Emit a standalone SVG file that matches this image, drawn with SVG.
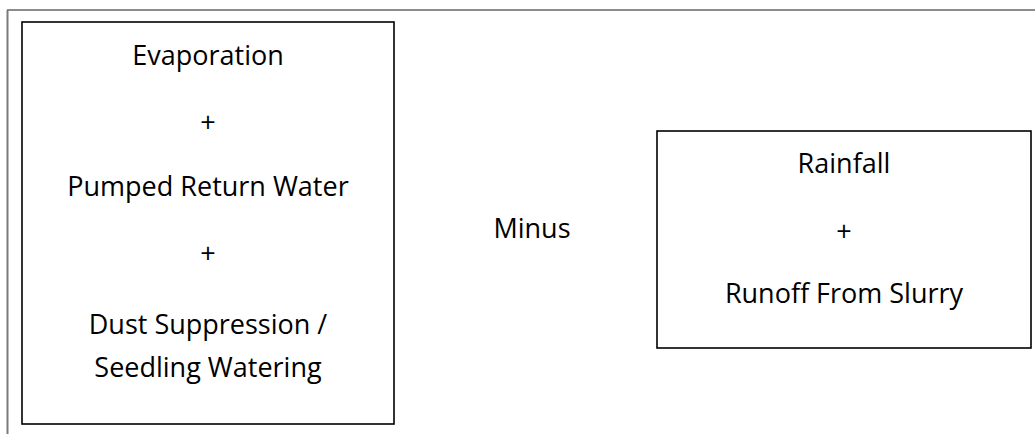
<svg xmlns="http://www.w3.org/2000/svg" width="1035" height="434" viewBox="0 0 1035 434">
  <style>
    .box { fill: #ffffff; stroke: #000000; stroke-width: 1.6; }
    .lbl { font-family: "Open Sans", "Noto Sans", "Liberation Sans", sans-serif; font-size: 27px; fill: #000000; text-anchor: middle; }
  </style>
  <rect x="0" y="0" width="1035" height="434" fill="#ffffff"/>
  <!-- page frame -->
  <g id="frame">
    <line x1="7" y1="10" x2="1035" y2="10" stroke="#1a1a1a" stroke-width="1.2"/>
    <line x1="7.5" y1="10" x2="7.5" y2="434" stroke="#7a7a7a" stroke-width="2"/>
  </g>
  <!-- outflows -->
  <g id="outflows">
    <rect class="box" x="22" y="22" width="372" height="402"/>
    <text class="lbl" x="208" y="65">Evaporation</text>
    <text class="lbl" x="208" y="132">+</text>
    <text class="lbl" x="208" y="196">Pumped Return Water</text>
    <text class="lbl" x="208" y="263">+</text>
    <text class="lbl" x="208" y="334">Dust Suppression /</text>
    <text class="lbl" x="208" y="377">Seedling Watering</text>
  </g>
  <g id="operator">
    <text class="lbl" x="532" y="238">Minus</text>
  </g>
  <!-- inflows -->
  <g id="inflows">
    <rect class="box" x="657" y="131" width="374" height="217"/>
    <text class="lbl" x="844" y="173">Rainfall</text>
    <text class="lbl" x="844" y="241">+</text>
    <text class="lbl" x="844" y="303">Runoff From Slurry</text>
  </g>
</svg>
